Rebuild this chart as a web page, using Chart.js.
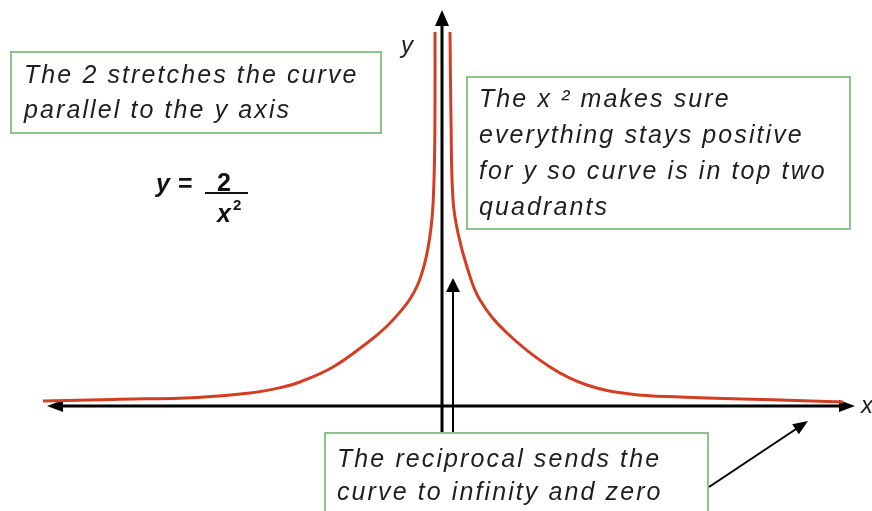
<!DOCTYPE html>
<html>
<head>
<meta charset="utf-8">
<title>y = 2 / x²</title>
<script src="https://cdn.jsdelivr.net/npm/chart.js@4/dist/chart.umd.min.js"></script>
<style>
  html, body { margin: 0; padding: 0; background: #ffffff; }
  #wrap { width: 872px; height: 511px; }
</style>
</head>
<body>
<div id="wrap"><canvas id="graph" width="872" height="511"></canvas></div>
<script>
// Left branch of the curve (x < 0), read point by point
const leftX = [-19.95, -16.45, -12.25, -9.6, -7.95, -7.1, -5.45, -3.75, -2.85, -2.1, -1.6, -1.2, -0.9, -0.7, -0.55, -0.45, -0.375, -0.35, -0.35];
const leftY = [0.25, 0.33, 0.43, 0.65, 0.95, 1.2, 1.95, 3.15, 3.9, 4.7, 5.35, 6.1, 7.0, 7.9, 8.9, 10.05, 12.3, 15.3, 18.7];

// Right branch of the curve (x > 0)
const rightX = [0.4, 0.45, 0.55, 0.8, 1.25, 1.9, 3.25, 5.4, 7.25, 9.4, 11.9, 16.9, 20.05];
const rightY = [18.7, 14.3, 10.3, 8.65, 6.95, 5.3, 3.65, 1.95, 1.05, 0.6, 0.45, 0.3, 0.2];

// Explanatory notes
const noteStretch = ["The 2 stretches the curve", "parallel to the y axis"];
const noteSquare = ["The x \u00B2 makes sure", "everything stays positive", "for y so curve is in top two", "quadrants"];
const noteReciprocal = ["The reciprocal sends the", "curve to infinity and zero"];
const axisNames = ["x", "y"];

const toPoints = (xs, ys) => xs.map((x, i) => ({ x: x, y: ys[i] }));

const CURVE = '#d43d22';
const BOX = '#8cc48c';
const INK = '#1e1e1e';
const NOTE_FONT = 'italic 25px "Liberation Sans", Arial, sans-serif';

function arrowHead(ctx, x0, y0, x1, y1, len, half) {
  const a = Math.atan2(y1 - y0, x1 - x0);
  ctx.beginPath();
  ctx.moveTo(x1, y1);
  ctx.lineTo(x1 - len * Math.cos(a) + half * Math.sin(a), y1 - len * Math.sin(a) - half * Math.cos(a));
  ctx.lineTo(x1 - len * Math.cos(a) - half * Math.sin(a), y1 - len * Math.sin(a) + half * Math.cos(a));
  ctx.closePath();
  ctx.fill();
}

function arrow(ctx, x0, y0, x1, y1, width, len, half) {
  const a = Math.atan2(y1 - y0, x1 - x0);
  ctx.lineWidth = width;
  ctx.beginPath();
  ctx.moveTo(x0, y0);
  ctx.lineTo(x1 - (len - 2) * Math.cos(a), y1 - (len - 2) * Math.sin(a));
  ctx.stroke();
  arrowHead(ctx, x0, y0, x1, y1, len, half);
}

function noteBox(ctx, left, top, right, bottom, lines, textX, firstBase, step) {
  ctx.fillStyle = '#ffffff';
  ctx.fillRect(left, top, right - left, bottom - top);
  ctx.strokeStyle = BOX;
  ctx.lineWidth = 2;
  ctx.strokeRect(left, top, right - left, bottom - top);
  ctx.fillStyle = INK;
  ctx.font = NOTE_FONT;
  ctx.textBaseline = 'alphabetic';
  ctx.textAlign = 'left';
  if ('letterSpacing' in ctx) ctx.letterSpacing = '2.1px';
  lines.forEach((t, i) => ctx.fillText(t, textX, firstBase + i * step));
  if ('letterSpacing' in ctx) ctx.letterSpacing = '0px';
}

// Axes with arrowheads, placed through the chart's own scales
const axesPlugin = {
  id: 'axesArrows',
  beforeDatasetsDraw(chart) {
    const { ctx, scales: { x, y } } = chart;
    const x0 = x.getPixelForValue(0), y0 = y.getPixelForValue(0);
    ctx.save();
    ctx.strokeStyle = '#000';
    ctx.fillStyle = '#000';
    // horizontal axis, arrow at both ends
    const xl = x.getPixelForValue(-19.75), xr = x.getPixelForValue(20.65);
    ctx.lineWidth = 3;
    ctx.beginPath(); ctx.moveTo(xl + 10, y0); ctx.lineTo(xr - 10, y0); ctx.stroke();
    arrowHead(ctx, xr, y0, xl, y0, 16, 6);
    arrowHead(ctx, xl, y0, xr, y0, 16, 6);
    // vertical axis
    const yt = y.getPixelForValue(19.8), yb = y.getPixelForValue(-1.35);
    arrow(ctx, x0, yb, x0, yt, 3, 16, 7);
    // thin arrow beside the axis
    const xa = x.getPixelForValue(0.55);
    arrow(ctx, xa, yb, xa, y.getPixelForValue(6.4), 2, 14, 7);
    ctx.restore();
  },
  afterDraw(chart) {
    const { ctx } = chart;
    ctx.save();
    // notes
    noteBox(ctx, 11, 52, 381, 133, noteStretch, 24, 83, 35);
    noteBox(ctx, 467, 77, 850, 229, noteSquare, 479, 107, 36);
    noteBox(ctx, 325, 433, 708, 520, noteReciprocal, 337, 467, 33);

    // pointer from the lower note toward the flattening tail
    ctx.strokeStyle = '#000';
    ctx.fillStyle = '#000';
    arrow(ctx, 709, 487, 808, 421, 2, 15, 6);

    // axis names
    ctx.fillStyle = INK;
    ctx.font = 'italic 24px "Liberation Sans", Arial, sans-serif';
    ctx.fillText(axisNames[1], 401, 53);
    ctx.fillText(axisNames[0], 861, 413);

    // equation y = 2 / x²
    ctx.fillStyle = '#111';
    ctx.font = 'italic bold 25px "Liberation Sans", Arial, sans-serif';
    ctx.fillText('y', 156, 192);
    ctx.font = 'bold 25px "Liberation Sans", Arial, sans-serif';
    ctx.fillText('=', 178, 192);
    ctx.fillText('2', 217, 191);
    ctx.fillRect(205, 192, 43, 2);
    ctx.font = 'italic bold 25px "Liberation Sans", Arial, sans-serif';
    ctx.fillText('x', 217, 222);
    ctx.font = 'bold 15px "Liberation Sans", Arial, sans-serif';
    ctx.fillText('2', 233, 210);
    ctx.restore();
  }
};

new Chart(document.getElementById('graph'), {
  type: 'scatter',
  data: {
    datasets: [
      { data: toPoints(leftX, leftY) },
      { data: toPoints(rightX, rightY) }
    ]
  },
  options: {
    responsive: false,
    animation: false,
    layout: { padding: { left: 42, right: 10, top: 6, bottom: 5 } },
    elements: {
      point: { radius: 0, hoverRadius: 0 },
      line: { borderColor: CURVE, borderWidth: 3, tension: 0.4, cubicInterpolationMode: 'default' }
    },
    datasets: { scatter: { showLine: true, borderColor: CURVE } },
    scales: {
      x: { type: 'linear', min: -20, max: 21, display: false },
      y: { type: 'linear', min: -5, max: 20, display: false }
    },
    plugins: { legend: { display: false }, tooltip: { enabled: false } }
  },
  plugins: [axesPlugin]
});
</script>
</body>
</html>
